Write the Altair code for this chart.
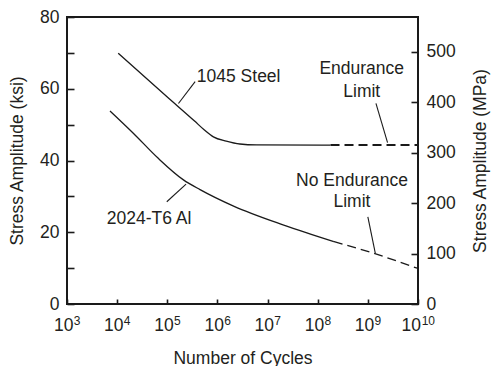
import altair as alt
import pandas as pd

# ---- axis values / tick labels ----
x_tick_values = [1e3, 1e4, 1e5, 1e6, 1e7, 1e8, 1e9, 1e10]
x_tick_base = '10'
x_tick_exp = ['3', '4', '5', '6', '7', '8', '9', '10']
ksi_labels = [0, 20, 40, 60, 80]
ksi_ticks = [0, 10, 20, 30, 40, 50, 60, 70, 80]
mpa_ticks = [0, 100, 200, 300, 400, 500]

# ---- curves (cycles, ksi) ----
steel_solid_cycles = [1.05e4, 1e5, 3.5e5, 5.5e5, 8.3e5, 1.5e6, 2.8e6, 6e6, 1.8e8]
steel_solid_ksi = [69.9, 57.7, 51.0, 48.5, 46.6, 45.4, 44.6, 44.35, 44.3]
steel_dash_cycles = [1.8e8, 1e10]
steel_dash_ksi = [44.3, 44.3]
al_solid_cycles = [7.2e3, 2.1e4, 6.6e4, 2.1e5, 4.5e5, 2.1e6, 2.1e7, 2.1e8]
al_solid_ksi = [53.8, 47.6, 40.6, 34.6, 31.9, 27.3, 22.0, 17.4]
al_dash_cycles = [2.1e8, 1.26e9, 1e10]
al_dash_ksi = [17.4, 14.2, 9.9]

# ---- annotations ----
ann_text = ['1045 Steel', '2024-T6 Al', 'Endurance', 'Limit', 'No Endurance', 'Limit']
ann_cycles = [2.65e6, 4.34e4, 7.55e8, 7.55e8, 4.82e8, 4.82e8]
ann_ksi = [63.4, 23.7, 65.5, 59.2, 34.3, 28.3]

lead_c1 = [3.59e5, 9.77e4, 1.45e9, 1.0e9]
lead_k1 = [62.0, 28.5, 55.9, 24.3]
lead_c2 = [1.67e5, 2.37e5, 2.47e9, 1.41e9]
lead_k2 = [55.9, 33.4, 45.0, 14.1]

FONT = 'Liberation Sans'
FS = 17.5
INK = '#231f20'

xscale = alt.Scale(type='log', domain=[1e3, 1e10], nice=False)
ykscale = alt.Scale(domain=[0, 80], nice=False, zero=True)
ymscale = alt.Scale(domain=[0, 569], nice=False, zero=True)

def mk(c, k, s):
    return pd.DataFrame({'cycles': c, 'ksi': k, 'series': s})

solid = pd.concat([mk(steel_solid_cycles, steel_solid_ksi, 'steel'),
                   mk(al_solid_cycles, al_solid_ksi, 'al')])
steel_dash = mk(steel_dash_cycles, steel_dash_ksi, 'steel')
al_dash = mk(al_dash_cycles, al_dash_ksi, 'al')

exp_expr = '[' + ','.join("'%s'" % t for t in x_tick_exp) + '][round(log(datum.value)/LN10) - 3]'
last = 'datum.value > 5e9'

main_x = alt.Axis(orient='bottom', values=x_tick_values, labelExpr="'%s'" % x_tick_base,
                  ticks=False, domain=False, grid=False, labelFlush=False,
                  labelOverlap=False, labelPadding=12,
                  labelOffset={'condition': {'test': last, 'value': -7.2}, 'value': -3.8},
                  title='Number of Cycles', titleBaseline='alphabetic', titleY=59)
main_y = alt.Axis(orient='left', values=ksi_labels, ticks=False, domain=False, grid=False,
                  labelPadding=8, labelFlush=False, title='Stress Amplitude (ksi)',
                  titleAngle=270, titleBaseline='alphabetic', titleX=-45)

curves = alt.Chart(solid).mark_line(color='#1a1a1a', strokeWidth=1.3, interpolate='monotone').encode(
    x=alt.X('cycles:Q', scale=xscale, axis=main_x),
    y=alt.Y('ksi:Q', scale=ykscale, axis=main_y),
    detail='series:N')

steel_d = alt.Chart(steel_dash).mark_line(color='#1a1a1a', strokeWidth=2, strokeDash=[9, 5]).encode(
    x=alt.X('cycles:Q', scale=xscale, axis=None),
    y=alt.Y('ksi:Q', scale=ykscale, axis=None))

al_d = alt.Chart(al_dash).mark_line(color='#1a1a1a', strokeWidth=1.3, strokeDash=[9, 5],
                                     interpolate='monotone').encode(
    x=alt.X('cycles:Q', scale=xscale, axis=None),
    y=alt.Y('ksi:Q', scale=ykscale, axis=None))

leaders = alt.Chart(pd.DataFrame({'c1': lead_c1, 'k1': lead_k1, 'c2': lead_c2, 'k2': lead_k2})
                    ).mark_rule(color='#1a1a1a', strokeWidth=1.1).encode(
    x=alt.X('c1:Q', scale=xscale, axis=None), x2='c2:Q',
    y=alt.Y('k1:Q', scale=ykscale, axis=None), y2='k2:Q')

texts = alt.Chart(pd.DataFrame({'t': ann_text, 'c': ann_cycles, 'k': ann_ksi})).mark_text(
    font=FONT, fontSize=FS, color=INK, align='center', baseline='middle').encode(
    x=alt.X('c:Q', scale=xscale, axis=None),
    y=alt.Y('k:Q', scale=ykscale, axis=None),
    text='t:N')

x_exp = alt.Chart(pd.DataFrame({'v': x_tick_values})).mark_point(opacity=0).encode(
    x=alt.X('v:Q', scale=xscale,
            axis=alt.Axis(orient='bottom', values=x_tick_values, labelExpr=exp_expr,
                          ticks=False, domain=False, grid=False, labelFlush=False,
                          labelOverlap=False, labelFontSize=12, labelAlign='left',
                          labelBaseline='top', labelPadding=11.3,
                          labelOffset={'condition': {'test': last, 'value': 3.2}, 'value': 6.2},
                          title=None)))

x_ticks = alt.Chart(pd.DataFrame({'v': x_tick_values})).mark_point(opacity=0).encode(
    x=alt.X('v:Q', scale=xscale,
            axis=alt.Axis(orient='bottom', values=x_tick_values, offset=-5, tickSize=5,
                          labels=False, domain=False, grid=False, title=None, ticks=True)))

y_ticks = alt.Chart(pd.DataFrame({'v': ksi_ticks})).mark_point(opacity=0).encode(
    y=alt.Y('v:Q', scale=ykscale,
            axis=alt.Axis(orient='left', values=ksi_ticks, offset=-7, tickSize=7,
                          labels=False, domain=False, grid=False, title=None, ticks=True)))

r_labels = alt.Chart(pd.DataFrame({'m': mpa_ticks})).mark_point(opacity=0).encode(
    y=alt.Y('m:Q', scale=ymscale,
            axis=alt.Axis(orient='right', values=mpa_ticks, ticks=False, domain=False, grid=False,
                          labelPadding=8, labelFlush=False, title='Stress Amplitude (MPa)',
                          titleAngle=270, titleBaseline='alphabetic', titleX=67)))

r_ticks = alt.Chart(pd.DataFrame({'m': mpa_ticks})).mark_point(opacity=0).encode(
    y=alt.Y('m:Q', scale=ymscale,
            axis=alt.Axis(orient='right', values=mpa_ticks, offset=-7, tickSize=7,
                          labels=False, domain=False, grid=False, title=None, ticks=True)))

chart = alt.layer(curves, steel_d, al_d, leaders, texts, x_exp, x_ticks, y_ticks, r_labels, r_ticks
                  ).resolve_scale(y='independent').resolve_axis(x='independent', y='independent'
                  ).properties(
    width=351, height=287,
    autosize=alt.AutoSizeParams(type='none'),
    padding={'left': 59, 'top': 9, 'right': 73, 'bottom': 62},
    background='white'
).configure_axis(
    labelFont=FONT, labelFontSize=FS, labelColor=INK,
    titleFont=FONT, titleFontSize=FS, titleColor=INK, titleFontWeight='normal',
    tickColor='#1a1a1a', tickWidth=1.6
).configure_view(stroke='#1a1a1a', strokeWidth=2)

chart.save('out.html', embed_options={'renderer': 'svg', 'actions': False})
